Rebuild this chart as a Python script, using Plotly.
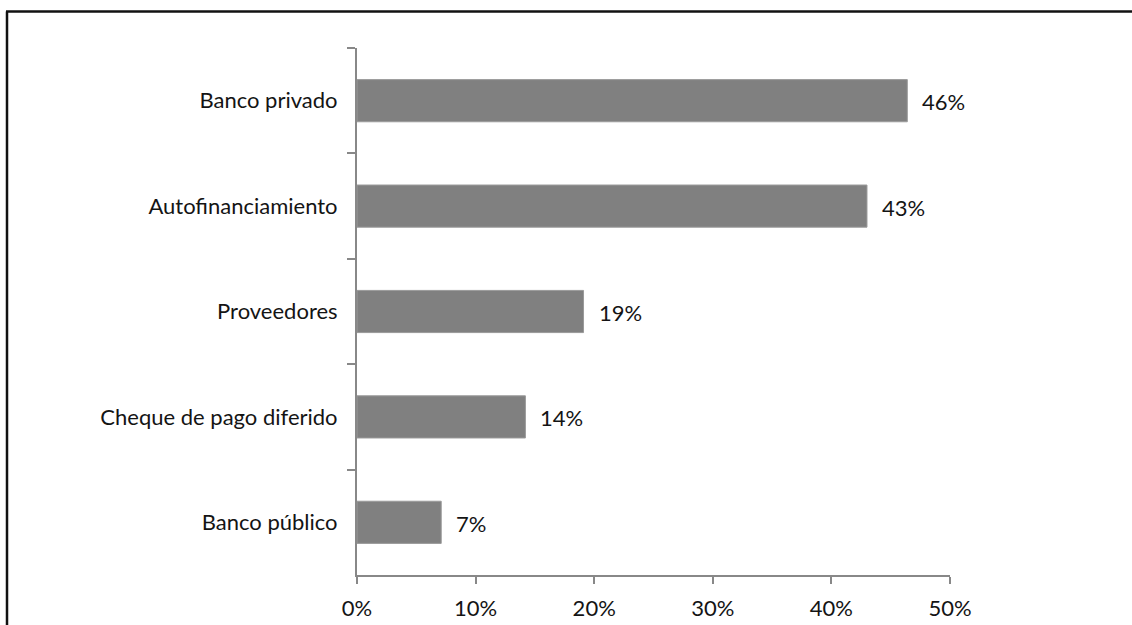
import plotly.graph_objects as go

# Financing sources and share of firms using each (%)
categories = [
    "Banco privado",
    "Autofinanciamiento",
    "Proveedores",
    "Cheque de pago diferido",
    "Banco público",
]
shares = [46.4, 43.0, 19.1, 14.2, 7.1]
x_ticks = [0, 10, 20, 30, 40, 50]
x_tick_labels = ["0%", "10%", "20%", "30%", "40%", "50%"]

W, H = 1132, 625
L, R, T, B = 357, 182, 48, 50
pw, ph = W - L - R, H - T - B

def px_x(px):
    return (px - L) / pw

def px_y(py):
    return (H - B - py) / ph

axis_grey = "#888888"
font = dict(family="Lato, 'Open Sans', sans-serif", size=22, color="#141414")

fig = go.Figure(
    go.Bar(
        x=shares,
        y=categories,
        orientation="h",
        marker=dict(color="#808080", line=dict(color="#9a9a9a", width=1)),
        hoverinfo="skip",
    )
)

# value labels to the right of each bar
for c, v in zip(categories, shares):
    fig.add_annotation(
        x=v, y=c, text=f"{v:.0f}%", showarrow=False,
        xanchor="left", xshift=13, yshift=-1, font=font,
    )

# frame lines on the left and top edges
fig.add_shape(type="line", xref="paper", yref="paper",
              x0=px_x(7), x1=px_x(7), y0=px_y(11.5), y1=px_y(H + 5),
              line=dict(color="#111111", width=2.5))
fig.add_shape(type="line", xref="paper", yref="paper",
              x0=px_x(6), x1=px_x(W + 5), y0=px_y(11.5), y1=px_y(11.5),
              line=dict(color="#111111", width=2.5))

fig.update_layout(
    width=W, height=H,
    margin=dict(l=L, r=R, t=T, b=B, pad=0, autoexpand=False),
    paper_bgcolor="white", plot_bgcolor="white",
    bargap=0.6, showlegend=False, font=font,
)
fig.update_xaxes(
    range=[0, 50], tickvals=x_ticks, ticktext=x_tick_labels,
    showgrid=False, zeroline=False, automargin=False,
    showline=True, linecolor=axis_grey, linewidth=2,
    ticks="outside", ticklen=7, tickwidth=2, tickcolor=axis_grey,
    tickfont=font, ticklabelstandoff=6,
)
fig.update_yaxes(
    autorange="reversed", tickson="boundaries", automargin=False,
    showgrid=False, zeroline=False,
    showline=True, linecolor=axis_grey, linewidth=2,
    ticks="outside", ticklen=8, tickwidth=2, tickcolor=axis_grey,
    tickfont=font, ticklabelstandoff=13,
)

fig.write_html("out.html")
